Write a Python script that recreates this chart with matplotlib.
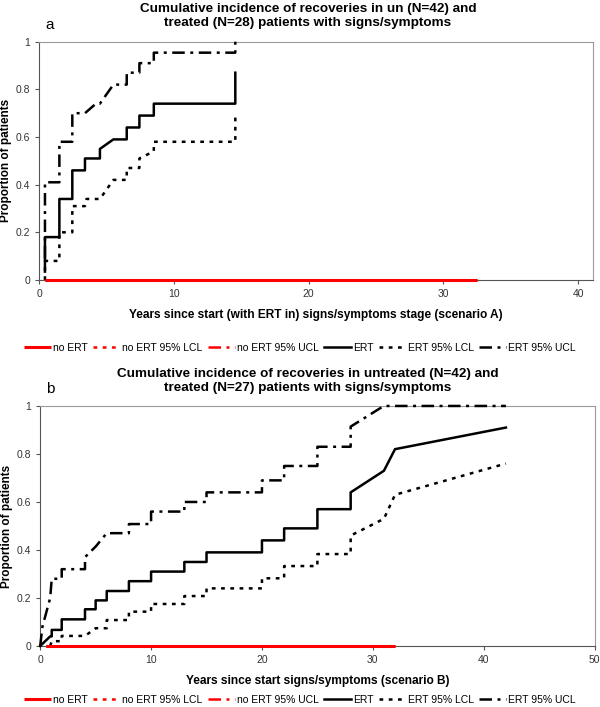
import matplotlib.pyplot as plt
from matplotlib.ticker import FuncFormatter

plt.rcParams["font.family"] = ["Liberation Sans", "DejaVu Sans"]

# ---- panel a: scenario A ----
a_ert_x = [0.42, 0.42, 1.49, 1.49, 2.45, 2.45, 3.39, 3.39, 4.5, 4.5, 5.5, 6.49, 6.49, 7.43, 7.43, 8.5, 8.5, 14.55, 14.55]
a_ert_y = [0.035, 0.18, 0.18, 0.34, 0.34, 0.46, 0.46, 0.51, 0.51, 0.55, 0.59, 0.59, 0.64, 0.64, 0.69, 0.69, 0.74, 0.74, 0.87]
a_lcl_x = [0.42, 0.42, 1.49, 1.49, 2.45, 2.45, 3.39, 3.5, 4.5, 5.5, 6.49, 6.49, 7.43, 7.43, 8.5, 8.5, 14.55, 14.55]
a_lcl_y = [0.0, 0.08, 0.08, 0.2, 0.2, 0.31, 0.31, 0.34, 0.34, 0.42, 0.42, 0.47, 0.47, 0.51, 0.54, 0.58, 0.58, 0.69]
a_ucl_x = [0.42, 0.42, 1.49, 1.49, 2.45, 2.45, 3.39, 4.2, 4.5, 5.5, 6.49, 6.49, 7.43, 7.43, 8.5, 8.5, 14.55, 14.55]
a_ucl_y = [0.09, 0.41, 0.41, 0.58, 0.58, 0.70, 0.70, 0.74, 0.74, 0.82, 0.82, 0.87, 0.87, 0.91, 0.91, 0.954, 0.954, 1.0]
a_noert_x = [0.44, 32.5]
a_noert_y = [0.0, 0.0]

# ---- panel b: scenario B ----
b_ert_x = [0, 0.9, 1.04, 1.04, 1.94, 1.94, 4.04, 4.04, 5.0, 5.0, 6.0, 6.0, 8.0, 8.0, 10.0, 10.0, 13.0, 13.0,
           15.0, 15.0, 20.0, 20.0, 22.0, 22.0, 25.0, 25.0, 28.0, 28.0, 31.0, 32.0, 42.0]
b_ert_y = [0.0, 0.04, 0.04, 0.067, 0.067, 0.111, 0.111, 0.153, 0.153, 0.19, 0.19, 0.229, 0.229, 0.27, 0.27, 0.31,
           0.31, 0.35, 0.35, 0.39, 0.39, 0.44, 0.44, 0.49, 0.49, 0.57, 0.57, 0.64, 0.73, 0.82, 0.91]
b_lcl_x = [0.9, 1.04, 1.94, 1.94, 4.04, 5.0, 6.0, 6.0, 8.0, 8.0, 10.0, 10.0, 13.0, 13.0, 15.0, 15.0, 20.0, 20.0,
           22.0, 22.0, 25.0, 25.0, 28.0, 28.0, 31.0, 32.0, 42.0]
b_lcl_y = [0.0, 0.02, 0.02, 0.042, 0.042, 0.074, 0.074, 0.108, 0.108, 0.143, 0.143, 0.175, 0.175, 0.208, 0.208,
           0.24, 0.24, 0.282, 0.282, 0.333, 0.333, 0.383, 0.383, 0.46, 0.53, 0.63, 0.76]
b_ucl_x = [0, 0.2, 0.9, 1.04, 1.94, 1.94, 4.04, 4.04, 5.0, 6.0, 8.0, 8.0, 10.0, 10.0, 13.0, 13.0, 15.0, 15.0,
           20.0, 20.0, 22.0, 22.0, 25.0, 25.0, 28.0, 28.0, 30.5, 31.0, 42.0]
b_ucl_y = [0.0, 0.08, 0.2, 0.28, 0.28, 0.32, 0.32, 0.37, 0.414, 0.47, 0.47, 0.508, 0.508, 0.56, 0.56, 0.60, 0.60,
           0.64, 0.64, 0.69, 0.69, 0.75, 0.75, 0.83, 0.83, 0.914, 0.986, 1.0, 1.0]
b_noert_x = [0.5, 32.0]
b_noert_y = [0.0, 0.0]

y_ticks = [0, 0.2, 0.4, 0.6, 0.8, 1]
legend_labels = ["no ERT", "no ERT 95% LCL", "no ERT 95% UCL", "ERT", "ERT 95% LCL", "ERT 95% UCL"]

LW = 1.8
DOT = (0, (1.5, 2.2))
DASHDOT = (0, (5, 2.2, 1.2, 2.2))


def draw_panel(ax, noert, ert, lcl, ucl, xmax, xticks):
    # red "no ERT" lines (CI bounds sit on zero too)
    ax.plot(*noert, color="red", lw=LW, ls=DOT, clip_on=False, zorder=1)
    ax.plot(*noert, color="red", lw=LW, ls=DASHDOT, clip_on=False, zorder=1)
    ax.plot(*noert, color="red", lw=2.2, solid_capstyle="butt", clip_on=False, zorder=4)
    ax.plot(*ert, color="black", lw=LW, clip_on=False, zorder=3)
    ax.plot(*lcl, color="black", lw=LW, ls=DOT, clip_on=False, zorder=3)
    ax.plot(*ucl, color="black", lw=LW, ls=DASHDOT, clip_on=False, zorder=3)

    ax.set_xlim(0, xmax)
    ax.set_ylim(0, 1)
    ax.set_xticks(xticks)
    ax.set_yticks(y_ticks)
    ax.yaxis.set_major_formatter(FuncFormatter(lambda v, p: f"{v:g}"))
    ax.tick_params(labelsize=7.5, labelcolor="#333333", color="#555555", length=3, width=0.8)
    for side in ["left", "bottom"]:
        ax.spines[side].set_color("#555555")
    for side in ["top", "right"]:
        ax.spines[side].set_color("#9a9a9a")
    ax.set_ylabel("Proportion of patients", fontsize=8.5, fontweight="bold")
    ax.yaxis.set_label_coords(-27.5 / 554, 0.5)


fig = plt.figure(figsize=(6.0, 7.07), dpi=100)

ax_a = fig.add_axes([0.0655, 0.604, 0.9228, 0.337])
draw_panel(ax_a, (a_noert_x, a_noert_y), (a_ert_x, a_ert_y), (a_lcl_x, a_lcl_y), (a_ucl_x, a_ucl_y),
           41.1, [0, 10, 20, 30, 40])
ax_a.set_xlabel("Years since start (with ERT in) signs/symptoms stage (scenario A)",
                fontsize=8.6, fontweight="bold", labelpad=7)

ax_b = fig.add_axes([0.067, 0.0863, 0.924, 0.3395])
draw_panel(ax_b, (b_noert_x, b_noert_y), (b_ert_x, b_ert_y), (b_lcl_x, b_lcl_y), (b_ucl_x, b_ucl_y),
           50, [0, 10, 20, 30, 40, 50])
ax_b.set_xlabel("Years since start signs/symptoms (scenario B)",
                fontsize=8.6, fontweight="bold", labelpad=7)

fig.text(308 / 600, 1 - 16 / 707,
         "Cumulative incidence of recoveries in un (N=42) and\ntreated (N=28) patients with signs/symptoms",
         ha="center", va="center", fontsize=9.7, fontweight="bold", linespacing=1.3)
fig.text(308 / 600, 1 - 381 / 707,
         "Cumulative incidence of recoveries in untreated (N=42) and\ntreated (N=27) patients with signs/symptoms",
         ha="center", va="center", fontsize=9.7, fontweight="bold", linespacing=1.3)
fig.text(50 / 600, 1 - 25 / 707, "a", ha="center", va="center", fontsize=11)
fig.text(50 / 600, 1 - 389 / 707, "b", ha="center", va="center", fontsize=11)

for ax, ypix in [(ax_a, 348), (ax_b, 700)]:
    handles = ax.get_lines()
    order = [2, 0, 1, 3, 4, 5]
    fig.legend([handles[i] for i in order], legend_labels, loc="center",
               bbox_to_anchor=(300 / 600, 1 - ypix / 707), ncol=6, frameon=False,
               fontsize=7.5, handlelength=2.6, handletextpad=0.2, columnspacing=0.5)

fig.savefig("out.png", dpi=100)
